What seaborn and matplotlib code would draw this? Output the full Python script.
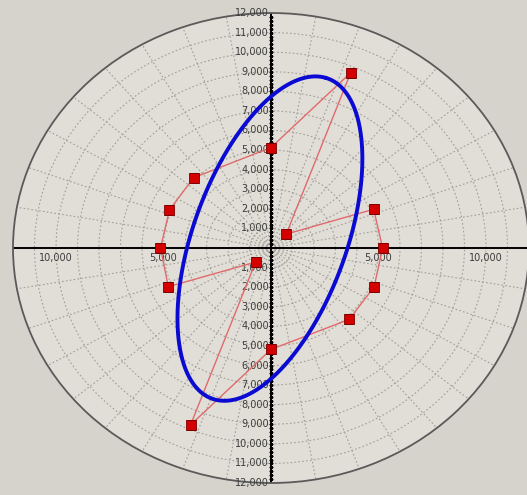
import numpy as np
import pandas as pd
import matplotlib
matplotlib.use("Agg")
import matplotlib.pyplot as plt
from matplotlib.transforms import offset_copy
import seaborn as sns

# Measured orbit points (angle in degrees, amplitude)
angle_deg = [67.5, 90, 135, 157.5, 180, 202.5, 225, 247.5, 270, 315, 337.5, 0, 22.5, 45]
radius = [9690, 5130, 5080, 5110, 5140, 5170, 1010, 9780, 5180, 5150, 5190, 5190, 5170, 1000]

# Fitted ellipse parameters
ellipse_center = (-50, 480)
ellipse_semi_major = 8610
ellipse_semi_minor = 3600
ellipse_tilt_deg = 72.5

# Scale labels
ring_values = list(range(1000, 13000, 1000))
ring_labels = [f"{v:,}" for v in ring_values]
horiz_values = [5000, 10000]
horiz_labels = ["5,000", "10,000"]

R_MAX = 12000

sns.set_theme(style="white")
plt.rcParams["font.family"] = ["DejaVu Sans"]

fig = plt.figure(figsize=(5.27, 4.95), dpi=100, facecolor="#d6d3cc")
ax = fig.add_axes([13 / 527, 12 / 495, 516 / 527, 470 / 495], projection="polar")
ax.set_aspect("auto")
ax.set_facecolor("#e1ded8")
ax.set_rlim(0, R_MAX)
ax.set_rgrids(range(1000, R_MAX, 1000), labels=[])
ax.set_thetagrids(range(0, 360, 10), labels=[])
ax.grid(True, color="#a29e98", linestyle=(0, (1.5, 2.0)), linewidth=0.8)
ax.spines["polar"].set_color("#5a5a5a")
ax.spines["polar"].set_linewidth(1.3)

# Cross-hair axes through the centre
for th in (0, np.pi / 2, np.pi, 3 * np.pi / 2):
    ax.plot([th, th], [0, R_MAX], color="black", lw=1.4, zorder=2)

minor = np.arange(200, R_MAX, 200)
for th in (np.pi / 2, 3 * np.pi / 2):
    ax.plot(np.full(len(minor), th), minor, ls="none", marker="_", ms=3,
            mew=0.9, color="black", zorder=2)

# Scale labels along the vertical axis
lab_tr = offset_copy(ax.transData, fig=fig, x=-2, y=0, units="dots")
for v, lab in zip(ring_values, ring_labels):
    for th in (np.pi / 2, 3 * np.pi / 2):
        ax.text(th, v, lab, transform=lab_tr, ha="right", va="center",
                fontsize=7, color="#3c3c3c", zorder=3)

# Scale labels along the horizontal axis
hl_tr = offset_copy(ax.transData, fig=fig, x=0, y=-10, units="dots")
for v, lab in zip(horiz_values, horiz_labels):
    for th in (0, np.pi):
        ax.text(th, v, lab, transform=hl_tr, ha="center", va="center",
                fontsize=7, color="#3c3c3c", zorder=3)

# Orbit polyline and markers
theta = np.deg2rad(angle_deg)
orbit = pd.DataFrame({"theta": np.append(theta, theta[0]),
                      "r": np.append(radius, radius[0])})
sns.lineplot(data=orbit, x="theta", y="r", sort=False, estimator=None,
             color="#e06a6a", linewidth=1.0, ax=ax, zorder=4)
sns.scatterplot(x=theta, y=radius, marker="s", s=42, color="#d40000",
                edgecolor="#7a0000", linewidth=0.6, ax=ax, zorder=5)

# Fitted ellipse
t = np.linspace(0, 2 * np.pi, 721)
tilt = np.deg2rad(ellipse_tilt_deg)
ex = (ellipse_center[0] + ellipse_semi_major * np.cos(tilt) * np.cos(t)
      - ellipse_semi_minor * np.sin(tilt) * np.sin(t))
ey = (ellipse_center[1] + ellipse_semi_major * np.sin(tilt) * np.cos(t)
      + ellipse_semi_minor * np.cos(tilt) * np.sin(t))
ell = pd.DataFrame({"theta": np.unwrap(np.arctan2(ey, ex)), "r": np.hypot(ex, ey)})
sns.lineplot(data=ell, x="theta", y="r", sort=False, estimator=None,
             color="#0a0ad2", linewidth=2.8, ax=ax, zorder=6)

ax.set_xlabel("")
ax.set_ylabel("")
ax.set_rlim(0, R_MAX)

fig.savefig("out.png", dpi=100, facecolor=fig.get_facecolor())
